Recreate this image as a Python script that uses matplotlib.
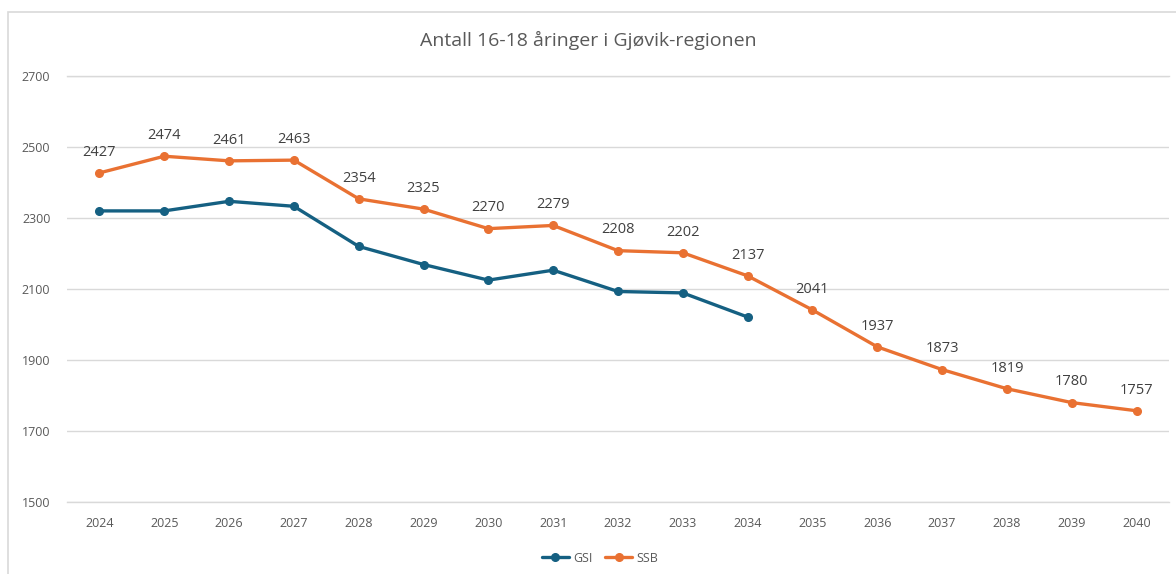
import matplotlib
matplotlib.use("Agg")
import matplotlib.pyplot as plt
from matplotlib.patches import Rectangle

years = [str(y) for y in range(2024, 2041)]
gsi = [2320, 2320, 2347, 2333, 2220, 2169, 2125, 2153, 2093, 2089, 2021]
ssb = [2427, 2474, 2461, 2463, 2354, 2325, 2270, 2279, 2208, 2202, 2137,
       2041, 1937, 1873, 1819, 1780, 1757]
yticks = [1500, 1700, 1900, 2100, 2300, 2500, 2700]

plt.rcParams['font.family'] = ['Open Sans', 'DejaVu Sans']
fig = plt.figure(figsize=(11.76, 5.74), dpi=100)
fig.patches.append(Rectangle((8/1176, -0.1), 1.2, 1.1 - 12/574, transform=fig.transFigure,
                             fill=False, edgecolor='#D9D9D9', linewidth=1.2))
ax = fig.add_axes([67/1176, 1 - 502/574, (1169 - 67)/1176, (502 - 76)/574])

x_all = list(range(len(years)))
ax.plot(x_all[:len(gsi)], gsi, color='#156082', lw=2.4, marker='o', ms=5.5, label='GSI',
        solid_capstyle='round', zorder=3)
ax.plot(x_all, ssb, color='#E97132', lw=2.4, marker='o', ms=5.5, label='SSB',
        solid_capstyle='round', zorder=3)
for xi, v in zip(x_all, ssb):
    ax.annotate(str(v), (xi, v), xytext=(0, 9.5), textcoords='offset points',
                ha='center', va='bottom', fontsize=10.5, color='#404040')

ax.set_xlim(-0.5, len(years) - 0.5)
ax.set_ylim(1500, 2700)
ax.set_yticks(yticks)
ax.set_xticks(x_all)
ax.set_xticklabels(years)
ax.tick_params(axis='both', length=0, labelsize=9, colors='#595959')
ax.tick_params(axis='y', pad=12)
ax.tick_params(axis='x', pad=11)
ax.grid(axis='y', color='#D9D9D9', lw=1)
for yv in (1500, 2700):
    ax.axhline(yv, color='#D9D9D9', lw=1, clip_on=False, zorder=0.5)
ax.set_axisbelow(True)
for s in ax.spines.values():
    s.set_visible(False)

fig.text(0.5, 1 - 40/574, 'Antall 16-18 åringer i Gjøvik-regionen', ha='center', va='center',
         fontsize=14, color='#595959')
fig.legend(loc='center', bbox_to_anchor=(0.51, 1 - 558/574), ncol=2, frameon=False,
           fontsize=9, labelcolor='#595959', handlelength=2.2, columnspacing=1.0,
           handletextpad=0.3)
fig.savefig('out.png', dpi=100, facecolor='white')
